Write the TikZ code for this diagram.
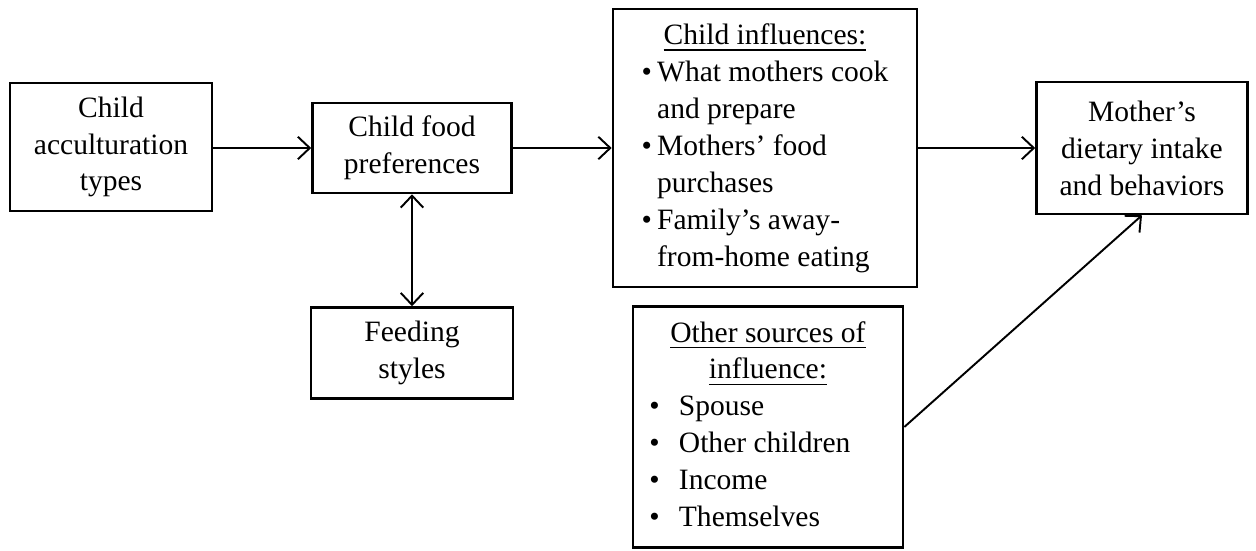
\documentclass[tikz,border=0pt]{standalone}
\usepackage{fontspec}
\setmainfont{Liberation Serif}
\usetikzlibrary{arrows.meta, positioning}

\tikzset{
    box/.style={draw, line width=0.7pt, align=center, inner sep=2pt,
        font=\fontsize{8.4pt}{10.5pt}\selectfont},
    arr/.style={line width=0.55pt, -{Straight Barb[length=3.4pt, width=6.4pt]}},
    darr/.style={line width=0.55pt, {Straight Barb[length=3.4pt, width=6.4pt]}-{Straight Barb[length=3.4pt, width=6.4pt]}}
}

\begin{document}
\begin{tikzpicture}[x=0.01cm, y=-0.01cm]
    \useasboundingbox (0,0) rectangle (1256,551);

    \node[box, minimum width=2.02cm, minimum height=1.28cm] (acc) at (111,147)
        {Child\\acculturation\\types};
    \node[box, minimum width=1.99cm, minimum height=0.90cm] (pref) at (412,148)
        {Child food\\preferences};
    \node[box, minimum width=2.02cm, minimum height=0.91cm] (feed) at (412,353)
        {Feeding\\styles};
    \node[box, minimum width=3.04cm, minimum height=2.78cm] (infl) at (765,148)
        {\begin{tabular}{@{}l@{\hspace{1.5pt}}l@{}}
            \multicolumn{2}{c}{\underline{Child influences:}}\\
            \textbullet & What mothers cook\\
                        & and prepare\\
            \textbullet & Mothers’ food\\
                        & purchases\\
            \textbullet & Family’s away-\\
                        & from-home eating
        \end{tabular}};
    \node[box, minimum width=2.11cm, minimum height=1.32cm] (mother) at (1142,148)
        {Mother’s\\dietary intake\\and behaviors};
    \node[box, minimum width=2.70cm, minimum height=2.41cm] (other) at (768,427)
        {\begin{tabular}{@{}l@{\hspace{5.5pt}}l@{}}
            \multicolumn{2}{c}{\underline{Other sources of}}\\
            \multicolumn{2}{c}{\underline{influence:}}\\
            \textbullet & Spouse\\
            \textbullet & Other children\\
            \textbullet & Income\\
            \textbullet & Themselves
        \end{tabular}};

    \draw[arr] (acc.east |- pref) -- (pref);
    \draw[arr] (pref) -- (infl);
    \draw[arr] (infl) -- (mother);
    \draw[darr] (pref) -- (feed);
    \draw[arr] (other.east) -- (mother.south);
\end{tikzpicture}
\end{document}
